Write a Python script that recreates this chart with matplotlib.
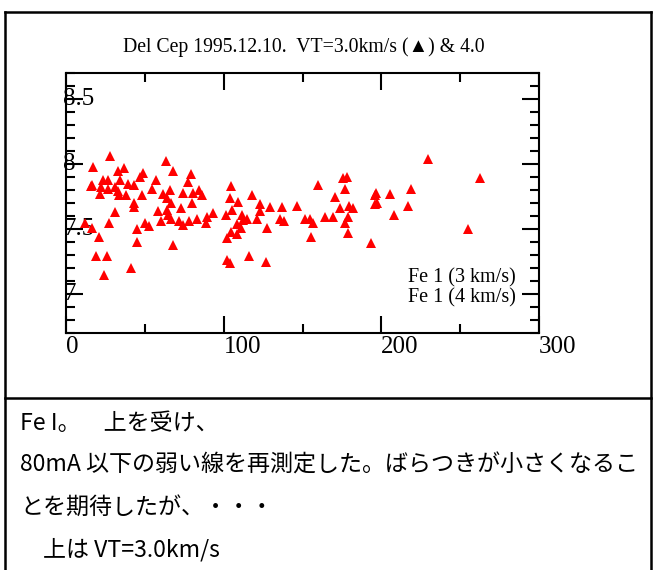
import matplotlib
matplotlib.use("Agg")
import matplotlib.pyplot as plt
from matplotlib.ticker import MultipleLocator
from matplotlib.lines import Line2D

# Fe I lines: equivalent width (mA) and derived abundance, VT = 3.0 km/s
ew = [28.1, 17.3, 37.0, 33.2, 46.9, 48.6, 23.3, 26.4, 34.2, 16.5,
      15.9, 39.5, 42.9, 22.2, 26.4, 31.3, 32.8, 21.7, 33.8, 38.0,
      48.2, 43.3, 43.3, 31.3, 12.0, 27.1, 50.3, 16.3, 45.0, 21.1,
      45.0, 19.0, 26.0, 41.2, 24.3,
      63.2, 68.0, 79.1, 77.2, 57.1, 54.3, 61.3, 65.9, 64.2, 66.4,
      74.0, 80.7, 84.5, 86.0, 79.7, 72.9, 58.5, 63.9, 64.9, 66.4,
      60.2, 52.8, 71.8, 74.0, 78.2, 83.3, 89.2, 93.0, 88.8, 68.0,
      104.8, 104.0, 109.1, 118.1, 123.0, 129.4, 136.8, 123.0, 101.3, 105.5,
      111.8, 115.0, 112.4, 121.3, 135.7, 138.2, 108.6, 111.2, 104.4, 127.6,
      108.2, 101.9, 101.9, 104.0, 116.0, 127.0,
      159.8, 175.6, 178.4, 176.7, 170.8, 146.7, 173.6, 179.5, 182.0, 151.7,
      154.5, 156.6, 164.4, 169.3, 178.8, 176.7, 178.8, 155.5,
      229.5, 196.6, 195.8, 205.6, 218.8, 195.8, 197.2, 216.9, 207.8, 193.6,
      262.7, 254.7]
abund = [8.06, 7.98, 7.97, 7.95, 7.90, 7.93, 7.88, 7.88, 7.88, 7.84,
         7.83, 7.85, 7.84, 7.82, 7.81, 7.82, 7.79, 7.77, 7.76, 7.76,
         7.76, 7.70, 7.67, 7.63, 7.55, 7.55, 7.55, 7.51, 7.50, 7.44,
         7.40, 7.29, 7.29, 7.20, 7.15,
         8.02, 7.95, 7.92, 7.86, 7.88, 7.81, 7.77, 7.80, 7.74, 7.70,
         7.78, 7.78, 7.80, 7.76, 7.70, 7.66, 7.64, 7.65, 7.61, 7.58,
         7.56, 7.52, 7.56, 7.53, 7.56, 7.58, 7.59, 7.62, 7.55, 7.38,
         7.83, 7.74, 7.71, 7.76, 7.69, 7.67, 7.67, 7.64, 7.61, 7.65,
         7.61, 7.58, 7.57, 7.58, 7.58, 7.56, 7.54, 7.51, 7.48, 7.51,
         7.46, 7.43, 7.26, 7.24, 7.29, 7.25,
         7.84, 7.89, 7.90, 7.81, 7.75, 7.68, 7.66, 7.68, 7.66, 7.58,
         7.58, 7.55, 7.59, 7.59, 7.59, 7.55, 7.47, 7.44,
         8.04, 7.78, 7.76, 7.77, 7.81, 7.69, 7.70, 7.68, 7.61, 7.39,
         7.89, 7.50]

x_ticks = [0, 100, 200, 300]
x_tick_labels = ["0", "100", "200", "300"]
y_ticks = [7.0, 7.5, 8.0, 8.5]
y_tick_labels = ["7", "7.5", "8", "8.5"]

title = "Del Cep 1995.12.10.  VT=3.0km/s (\u25b2) & 4.0"
legend_lines = ["Fe 1 (3 km/s)", "Fe 1 (4 km/s)"]
note_lines = ["Fe I\u3002\u3000上を受け、",
              "80mA 以下の弱い線を再測定した。ばらつきが小さくなるこ",
              "とを期待したが、・・・",
              "\u3000上は VT=3.0km/s"]

W, H = 656, 570
fig = plt.figure(figsize=(W / 100, H / 100), dpi=100)
serif = ["Liberation Serif", "DejaVu Serif", "DejaVu Sans"]

ax = fig.add_axes([66 / W, 1 - 333 / H, (539 - 66) / W, (333 - 73) / H])
ax.plot(ew, abund, linestyle="none", marker="^", markersize=7.5,
        color="#ff0000", markeredgewidth=0)
ax.set_xlim(0, 300)
ax.set_ylim(6.7, 8.7)

ax.set_xticks(x_ticks)
ax.set_xticklabels(x_tick_labels, family=serif, fontsize=18, ha="left")
ax.set_yticks(y_ticks)
ax.set_yticklabels(y_tick_labels, family=serif, fontsize=18, ha="left", va="center")
ax.xaxis.set_minor_locator(MultipleLocator(50))
ax.yaxis.set_minor_locator(MultipleLocator(0.1))
ax.tick_params(which="both", direction="in", top=True, right=True, width=1.5,
               color="black")
ax.tick_params(which="major", length=12)
ax.tick_params(which="minor", length=6.5)
ax.tick_params(axis="x", pad=2.5)
ax.tick_params(axis="y", pad=2.2)
for s in ax.spines.values():
    s.set_linewidth(1.5)

fig.text(304 / W, 1 - 47 / H, title, family=serif, fontsize=14.2,
         ha="center", va="center")
for i, t in enumerate(legend_lines):
    fig.text(516 / W, 1 - (278 + 20 * i) / H, t, family=serif, fontsize=14.5,
             ha="right", va="center")

# outer frame and divider
frame_kw = dict(color="black", linewidth=1.8, transform=fig.transFigure)
fig.add_artist(Line2D([5 / W, 651 / W], [1 - 12 / H, 1 - 12 / H], **frame_kw))
fig.add_artist(Line2D([5 / W, 5 / W], [1 - 12 / H, 0], **frame_kw))
fig.add_artist(Line2D([651 / W, 651 / W], [1 - 12 / H, 0], **frame_kw))
fig.add_artist(Line2D([5 / W, 651 / W], [1 - 398 / H, 1 - 398 / H], **frame_kw))

cjk = ["Noto Sans CJK JP", "DejaVu Sans"]
for i, t in enumerate(note_lines):
    fig.text(20 / W, 1 - (423 + 42.3 * i) / H, t, family=cjk, fontsize=16.6,
             ha="left", va="center")

fig.savefig("out.png", dpi=100)
